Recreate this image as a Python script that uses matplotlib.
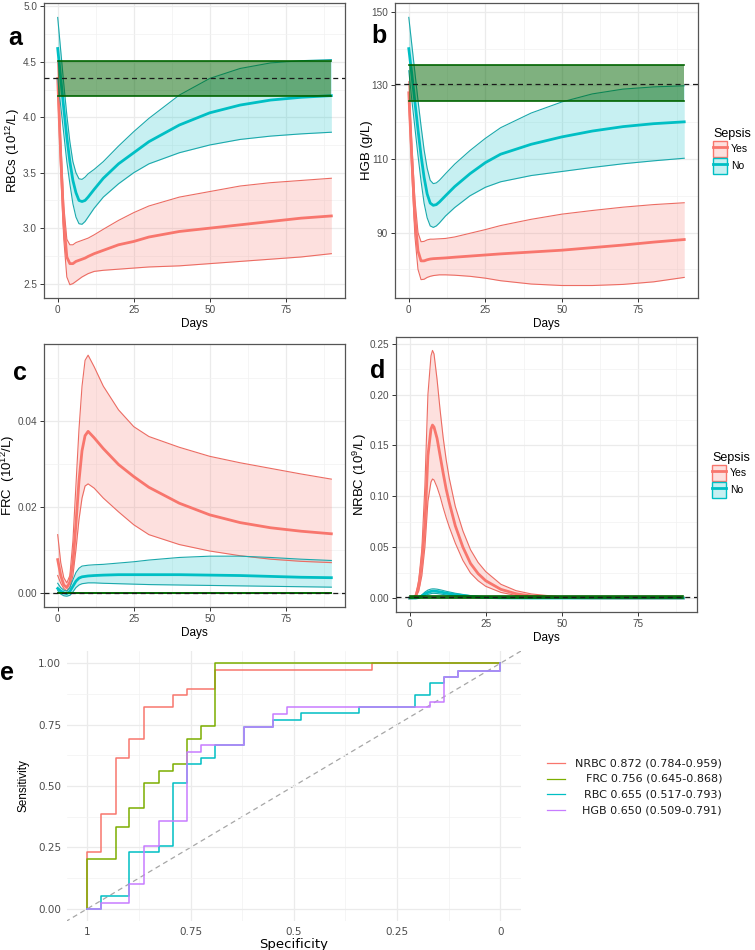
import matplotlib
matplotlib.use("Agg")
import matplotlib.pyplot as plt
from matplotlib.patches import Patch
from matplotlib.lines import Line2D
from matplotlib.colors import to_rgba
from matplotlib.ticker import FixedLocator

plt.rcParams['font.family'] = ['Liberation Sans', 'DejaVu Sans']
plt.rcParams['mathtext.default'] = 'regular'

RED = '#F8766D'
TEAL = '#00BFC4'
RED_EDGE = '#EC6C63'
TEAL_EDGE = '#1BA9AC'
BAND = '#006400'

# ---------------- data ----------------
days = [0, 1, 2, 3, 4, 5, 6, 7, 8, 9, 10, 12, 15, 20, 25, 30, 40, 50, 60, 70, 80, 90]

# a: RBCs
rbc_no_mid = [4.62, 4.35, 4.08, 3.82, 3.60, 3.43, 3.32, 3.25, 3.24, 3.25, 3.28, 3.35, 3.45, 3.58, 3.68, 3.78, 3.93, 4.04, 4.11, 4.155, 4.18, 4.195]
rbc_no_hi = [4.90, 4.60, 4.30, 4.02, 3.78, 3.60, 3.50, 3.445, 3.44, 3.46, 3.49, 3.53, 3.60, 3.74, 3.87, 3.99, 4.20, 4.35, 4.44, 4.49, 4.51, 4.52]
rbc_no_lo = [4.35, 4.10, 3.85, 3.60, 3.40, 3.22, 3.10, 3.04, 3.035, 3.06, 3.10, 3.18, 3.28, 3.40, 3.50, 3.58, 3.68, 3.75, 3.80, 3.83, 3.85, 3.865]
rbc_yes_mid = [4.35, 3.65, 3.05, 2.74, 2.68, 2.68, 2.70, 2.71, 2.72, 2.73, 2.745, 2.77, 2.80, 2.85, 2.88, 2.92, 2.97, 3.00, 3.03, 3.06, 3.09, 3.11]
rbc_yes_hi = [4.50, 3.80, 3.20, 2.90, 2.85, 2.85, 2.87, 2.88, 2.89, 2.90, 2.91, 2.94, 2.99, 3.07, 3.14, 3.20, 3.28, 3.33, 3.38, 3.41, 3.43, 3.45]
rbc_yes_lo = [4.25, 3.50, 2.90, 2.56, 2.49, 2.50, 2.52, 2.54, 2.56, 2.575, 2.59, 2.61, 2.62, 2.63, 2.64, 2.65, 2.66, 2.68, 2.70, 2.72, 2.74, 2.77]
rbc_ref_band = (4.19, 4.51)
rbc_ref_line = 4.35

# b: HGB
hgb_no_mid = [140, 133, 125.5, 118, 111, 105, 100.5, 98, 97.4, 97.6, 98.3, 100, 102.5, 106, 109, 111.3, 114, 116, 117.6, 118.8, 119.6, 120.1]
hgb_no_hi = [148.5, 141, 133.5, 126, 119, 112.5, 107.5, 104.2, 103.3, 103.5, 104.2, 106, 108.6, 112.3, 115.6, 118.5, 122.5, 125.5, 127.7, 129, 129.6, 129.9]
hgb_no_lo = [134, 126, 118.5, 111, 104, 98, 94, 91.8, 91.4, 91.8, 92.6, 94.5, 96.8, 100, 102.3, 103.8, 105.5, 106.6, 107.7, 108.7, 109.5, 110.2]
hgb_yes_mid = [128, 110, 94, 85, 82.3, 82.3, 82.6, 82.8, 82.9, 82.95, 83, 83.1, 83.3, 83.6, 83.9, 84.2, 84.7, 85.2, 85.9, 86.6, 87.4, 88.1]
hgb_yes_hi = [131, 114, 99, 90, 87.5, 87.6, 88, 88.2, 88.2, 88.25, 88.3, 88.4, 88.8, 89.8, 90.8, 91.9, 93.6, 95, 96, 96.9, 97.6, 98.1]
hgb_yes_lo = [125, 106, 89, 80, 77.2, 77.3, 77.8, 78.1, 78.3, 78.4, 78.5, 78.5, 78.4, 78.1, 77.6, 76.9, 76, 75.6, 75.6, 75.9, 76.6, 77.8]
hgb_ref_band = (125.8, 135.5)
hgb_ref_line = 130.5

# c: FRC
frc_yes_mid = [0.0077, 0.004, 0.0018, 0.0012, 0.0025, 0.007, 0.016, 0.026, 0.033, 0.0365, 0.0375, 0.036, 0.0335, 0.0298, 0.027, 0.0245, 0.0208, 0.0181, 0.0163, 0.0151, 0.0143, 0.0137]
frc_yes_hi = [0.0135, 0.007, 0.0035, 0.0023, 0.004, 0.012, 0.025, 0.038, 0.048, 0.054, 0.0552, 0.0525, 0.048, 0.0425, 0.0386, 0.0363, 0.0338, 0.0317, 0.0302, 0.0289, 0.0276, 0.0264]
frc_yes_lo = [0.004, 0.0022, 0.001, 0.0004, 0.0012, 0.004, 0.010, 0.017, 0.022, 0.0248, 0.0253, 0.0243, 0.022, 0.0188, 0.0158, 0.0135, 0.0112, 0.0097, 0.0086, 0.0078, 0.0073, 0.007]
frc_no_mid = [0.001, 0.0004, 0.0, -0.0002, 0.0003, 0.0015, 0.0027, 0.0034, 0.0037, 0.0038, 0.0039, 0.004, 0.0041, 0.0042, 0.0042, 0.0042, 0.0042, 0.0041, 0.004, 0.0038, 0.0036, 0.0035]
frc_no_hi = [0.0022, 0.0012, 0.0006, 0.0004, 0.0012, 0.003, 0.0047, 0.0057, 0.0062, 0.0063, 0.0064, 0.0065, 0.0066, 0.0069, 0.0072, 0.0076, 0.0082, 0.0085, 0.0085, 0.0082, 0.0078, 0.0075]
frc_no_lo = [0.0005, -0.0003, -0.0007, -0.0008, -0.0006, 0.0002, 0.0012, 0.0018, 0.0021, 0.0022, 0.0023, 0.0023, 0.0022, 0.0021, 0.002, 0.0019, 0.0018, 0.0017, 0.0016, 0.0015, 0.0014, 0.0013]
frc_ref_band = (0.0, 0.0)
frc_ref_line = 0.0

# d: NRBC
days_nrbc = [0, 1, 2, 3, 4, 5, 6, 7, 7.5, 8, 9, 10, 11, 12, 13, 15, 17.5, 20, 22.5, 25, 30, 35, 40, 50, 60, 70, 80, 90]
nrbc_yes_mid = [0, 0.0003, 0.002, 0.012, 0.035, 0.072, 0.14, 0.166, 0.17, 0.168, 0.157, 0.14, 0.123, 0.107, 0.094, 0.071, 0.05, 0.034, 0.024, 0.017, 0.0085, 0.0042, 0.002, 0.0005, 0.0001, 0, 0, 0]
nrbc_yes_hi = [0, 0.0005, 0.003, 0.018, 0.048, 0.11, 0.2, 0.238, 0.2434, 0.24, 0.215, 0.185, 0.158, 0.136, 0.118, 0.09, 0.066, 0.0475, 0.035, 0.026, 0.0135, 0.0072, 0.004, 0.001, 0.0002, 0, 0, 0]
nrbc_yes_lo = [0, 0.0001, 0.001, 0.007, 0.022, 0.05, 0.095, 0.114, 0.117, 0.116, 0.109, 0.1, 0.089, 0.079, 0.07, 0.054, 0.037, 0.0246, 0.017, 0.0115, 0.0055, 0.0025, 0.001, 0.0002, 0, 0, 0, 0]
nrbc_no_mid = [0, 0, 0, 0.0005, 0.002, 0.004, 0.0055, 0.0065, 0.0068, 0.0068, 0.0065, 0.006, 0.0054, 0.0048, 0.0043, 0.0033, 0.0024, 0.0015, 0.001, 0.0006, 0.0002, 0.0001, 0, 0, 0, 0, 0, 0]
nrbc_no_hi = [0, 0, 0.0002, 0.001, 0.003, 0.0058, 0.0078, 0.0088, 0.009, 0.009, 0.0087, 0.0081, 0.0074, 0.0066, 0.006, 0.0047, 0.0035, 0.0024, 0.0016, 0.001, 0.0004, 0.0002, 0.0001, 0, 0, 0, 0, 0]
nrbc_no_lo = [0, 0, 0, 0.0002, 0.0012, 0.0025, 0.0035, 0.0043, 0.0046, 0.0046, 0.0044, 0.004, 0.0035, 0.0031, 0.0028, 0.002, 0.0014, 0.0008, 0.0005, 0.0003, 0.0001, 0, 0, 0, 0, 0, 0, 0]
nrbc_ref_band = (0.0, 0.002)
nrbc_ref_line = 0.001

# e: ROC curves (specificity, sensitivity corner points)
nrbc_spec = [1, 1, 0.967, 0.931, 0.898, 0.862, 0.793, 0.758, 0.690, 0.310, 0.0]
nrbc_sens = [0, 0.231, 0.385, 0.614, 0.692, 0.821, 0.870, 0.895, 0.973, 1.0, 1.0]
frc_spec = [1, 1, 0.931, 0.898, 0.862, 0.827, 0.793, 0.758, 0.724, 0.690, 0.0]
frc_sens = [0, 0.201, 0.332, 0.409, 0.512, 0.5625, 0.588, 0.692, 0.743, 1.0, 1.0]
rbc_spec = [1, 0.967, 0.898, 0.827, 0.793, 0.758, 0.724, 0.690, 0.620, 0.550, 0.483, 0.343, 0.206, 0.171, 0.136, 0.102, 0.0]
rbc_sens = [0, 0.05, 0.231, 0.255, 0.512, 0.588, 0.614, 0.666, 0.742, 0.769, 0.796, 0.82, 0.871, 0.921, 0.946, 0.97, 1.0]
hgb_spec = [1, 0.967, 0.898, 0.862, 0.827, 0.758, 0.724, 0.620, 0.550, 0.516, 0.171, 0.136, 0.102, 0.0]
hgb_sens = [0, 0.024, 0.102, 0.255, 0.358, 0.640, 0.666, 0.742, 0.793, 0.82, 0.844, 0.946, 0.97, 1.0]
roc_labels = ['NRBC 0.872 (0.784-0.959)', 'FRC 0.756 (0.645-0.868)',
              'RBC 0.655 (0.517-0.793)', 'HGB 0.650 (0.509-0.791)']
roc_colors = ['#F8766D', '#7CAE00', '#00BFC4', '#C77CFF']

# ---------------- drawing ----------------
fig = plt.figure(figsize=(7.55, 9.5), dpi=100)


def trend_panel(rect, x, yes, no, band, ref, ylim, yticks, yminor, ylabel, label_x, legend=False):
    ax = fig.add_axes(rect)
    for (lo, mid, hi), col, edge in ((yes, RED, RED_EDGE), (no, TEAL, TEAL_EDGE)):
        ax.fill_between(x, lo, hi, color=col, alpha=0.22, lw=0)
        ax.plot(x, lo, color=edge, lw=0.8)
        ax.plot(x, hi, color=edge, lw=0.8)
        ax.plot(x, mid, color=col, lw=2.0)
    ax.fill_between([x[0], x[-1]], [band[0]] * 2, [band[1]] * 2, color=BAND, alpha=0.5, lw=0, zorder=4)
    ax.plot([x[0], x[-1]], [band[0]] * 2, color=BAND, lw=1.2, zorder=5)
    ax.plot([x[0], x[-1]], [band[1]] * 2, color=BAND, lw=1.2, zorder=5)
    ax.axhline(ref, color='#1a1a1a', lw=0.9, ls=(0, (4, 3)), zorder=6)
    ax.set_xlim(-4.5, 94.5)
    ax.set_ylim(*ylim)
    ax.set_xticks([0, 25, 50, 75])
    ax.xaxis.set_minor_locator(FixedLocator([12.5, 37.5, 62.5, 87.5]))
    ax.set_yticks(yticks)
    ax.yaxis.set_minor_locator(FixedLocator(yminor))
    ax.grid(which='major', color='#EBEBEB', lw=0.9)
    ax.grid(which='minor', color='#F2F2F2', lw=0.5)
    ax.set_axisbelow(True)
    for s in ax.spines.values():
        s.set_color('#555555')
        s.set_linewidth(0.9)
    ax.tick_params(which='major', length=3, width=0.7, color='#333333', labelcolor='#4D4D4D',
                   labelsize=7.2, pad=2)
    ax.tick_params(which='minor', length=0)
    ax.set_xlabel('Days', fontsize=8.5, labelpad=2)
    ax.set_ylabel(ylabel, fontsize=9.5)
    ax.yaxis.set_label_coords(label_x, 0.5)
    if legend:
        handles = [(Patch(facecolor=to_rgba(RED, 0.22), edgecolor=RED, lw=1.0), Line2D([], [], color=RED, lw=2)),
                   (Patch(facecolor=to_rgba(TEAL, 0.22), edgecolor=TEAL, lw=1.0), Line2D([], [], color=TEAL, lw=2))]
        leg = ax.legend(handles, ['Yes', 'No'], title='Sepsis', loc='center left',
                        bbox_to_anchor=(1.03, 0.5), frameon=False, fontsize=7.5,
                        title_fontsize=9, handlelength=1.3, handleheight=1.9,
                        handletextpad=0.4, labelspacing=0.15, borderaxespad=0.2)
        leg._legend_box.align = 'left'
    return ax


ax_a = trend_panel([0.0583, 0.6863, 0.3987, 0.3105], days,
                   (rbc_yes_lo, rbc_yes_mid, rbc_yes_hi), (rbc_no_lo, rbc_no_mid, rbc_no_hi),
                   rbc_ref_band, rbc_ref_line, (2.37, 5.03), [2.5, 3.0, 3.5, 4.0, 4.5, 5.0],
                   [2.75, 3.25, 3.75, 4.25, 4.75], 'RBCs (10$^{12}$/L)', -0.072)
ax_b = trend_panel([0.5232, 0.6863, 0.4013, 0.3105], days,
                   (hgb_yes_lo, hgb_yes_mid, hgb_yes_hi), (hgb_no_lo, hgb_no_mid, hgb_no_hi),
                   hgb_ref_band, hgb_ref_line, (72.2, 152.4), [90, 110, 130, 150],
                   [80, 100, 120, 140], 'HGB (g/L)', -0.074, legend=True)
ax_c = trend_panel([0.0583, 0.3611, 0.3987, 0.2768], days,
                   (frc_yes_lo, frc_yes_mid, frc_yes_hi), (frc_no_lo, frc_no_mid, frc_no_hi),
                   frc_ref_band, frc_ref_line, (-0.0033, 0.0578), [0.0, 0.02, 0.04],
                   [0.01, 0.03, 0.05], 'FRC  (10$^{12}$/L)', -0.09)
ax_c.set_yticklabels(['0.00', '0.02', '0.04'])
ax_d = trend_panel([0.5245, 0.3553, 0.3987, 0.2900], days_nrbc,
                   (nrbc_yes_lo, nrbc_yes_mid, nrbc_yes_hi), (nrbc_no_lo, nrbc_no_mid, nrbc_no_hi),
                   nrbc_ref_band, nrbc_ref_line, (-0.0142, 0.2566), [0.0, 0.05, 0.10, 0.15, 0.20, 0.25],
                   [0.025, 0.075, 0.125, 0.175, 0.225], 'NRBC (10$^{9}$/L)', -0.09, legend=True)
ax_d.set_yticklabels(['0.00', '0.05', '0.10', '0.15', '0.20', '0.25'])

# e: ROC
ax_e = fig.add_axes([0.0883, 0.0305, 0.6017, 0.2842])
for sp, se, col in zip([nrbc_spec, frc_spec, rbc_spec, hgb_spec],
                       [nrbc_sens, frc_sens, rbc_sens, hgb_sens], roc_colors):
    ax_e.step(sp, se, where='post', color=col, lw=1.1)
ax_e.axline((1, 0), (0, 1), color='#A6A6A6', lw=0.9, ls=(0, (4, 3)), zorder=0.5)
ax_e.set_xlim(1.05, -0.05)
ax_e.set_ylim(-0.05, 1.05)
ax_e.set_xticks([1, 0.75, 0.5, 0.25, 0])
ax_e.set_xticklabels(['1', '0.75', '0.5', '0.25', '0'])
ax_e.set_yticks([0, 0.25, 0.5, 0.75, 1.0])
ax_e.set_yticklabels(['0.00', '0.25', '0.50', '0.75', '1.00'])
ax_e.xaxis.set_minor_locator(FixedLocator([0.875, 0.625, 0.375, 0.125]))
ax_e.yaxis.set_minor_locator(FixedLocator([0.125, 0.375, 0.625, 0.875]))
ax_e.grid(which='major', color='#EBEBEB', lw=0.9)
ax_e.grid(which='minor', color='#F2F2F2', lw=0.5)
ax_e.set_axisbelow(True)
for s in ax_e.spines.values():
    s.set_visible(False)
ax_e.tick_params(which='both', length=0, labelcolor='#4D4D4D', pad=4)
for t in ax_e.get_xticklabels() + ax_e.get_yticklabels():
    t.set_family('DejaVu Sans')
    t.set_fontsize(7.5)
ax_e.set_xlabel('Specificity', family='DejaVu Sans', fontsize=9.5, labelpad=1)
ax_e.set_ylabel('Sensitivity', fontsize=8.5, labelpad=6)

# ROC legend: keys on the left, labels right-aligned
for i, (lab, col) in enumerate(zip(roc_labels, roc_colors)):
    yy = 1 - (763 + i * 15.7) / 950
    fig.add_artist(Line2D([547 / 755, 565 / 755], [yy, yy], color=col, lw=0.9,
                          transform=fig.transFigure))
    fig.text(722 / 755, yy, lab, ha='right', va='center', fontsize=8,
             family='DejaVu Sans', color='#1a1a1a')

# panel letters
for lab, x, y in [('a', 8, 45), ('b', 371, 43), ('c', 13, 380), ('d', 370, 378), ('e', 0, 680)]:
    fig.text(x / 755, 1 - y / 950, lab, fontsize=18, fontweight='bold',
             ha='left', va='baseline')

fig.savefig('out.png', dpi=100)
